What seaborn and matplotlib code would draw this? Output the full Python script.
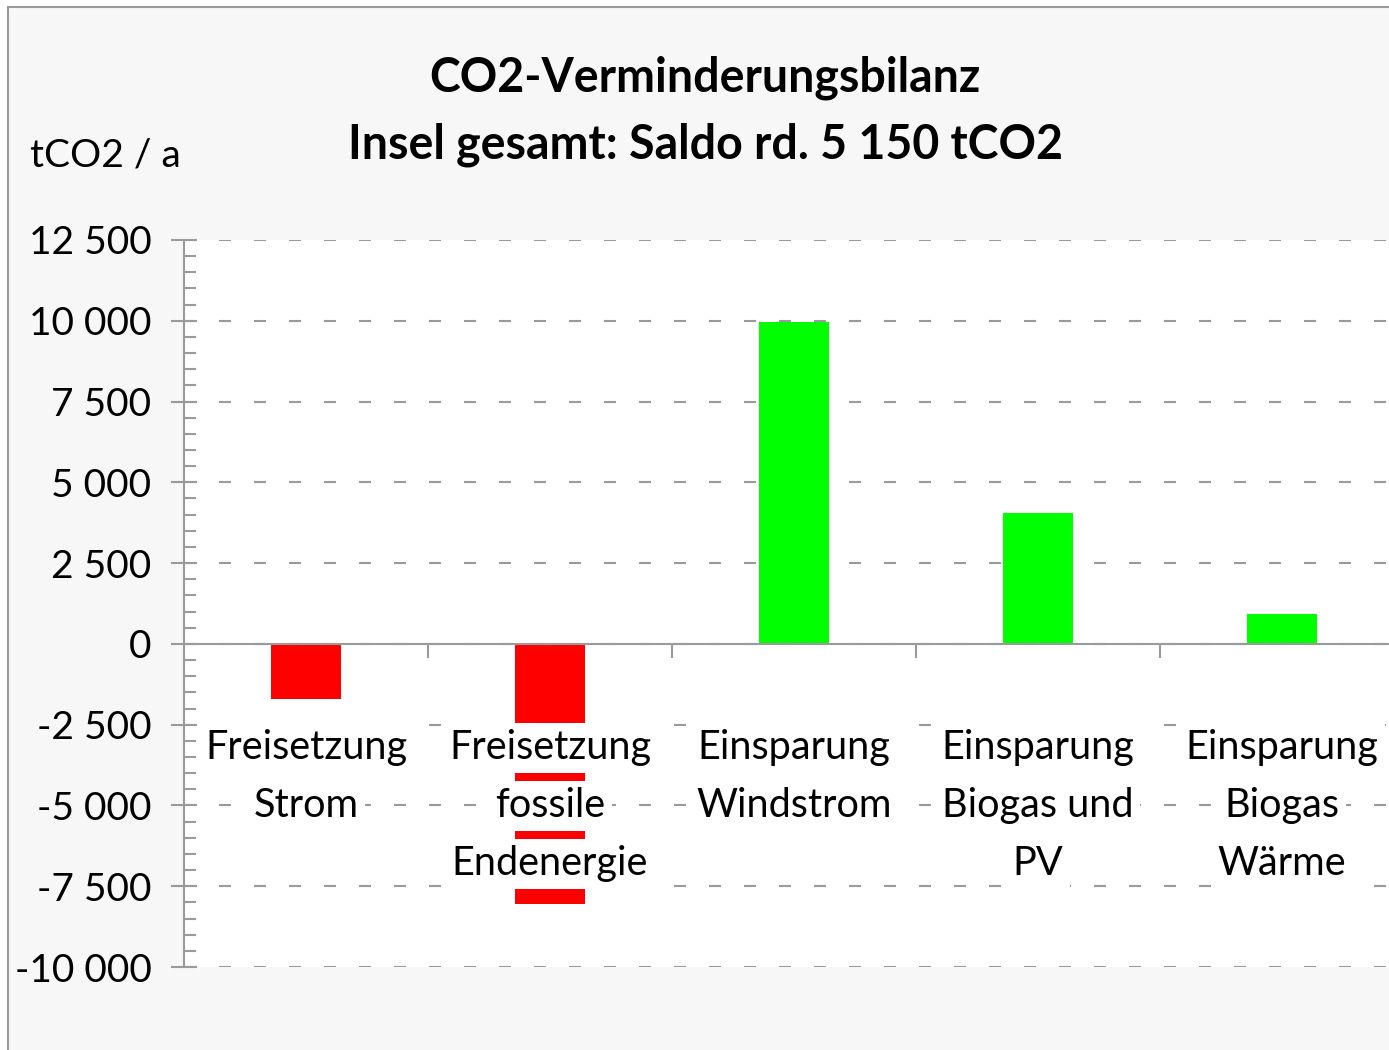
import numpy as np
import pandas as pd
import matplotlib
matplotlib.use('Agg')
import matplotlib.pyplot as plt
from matplotlib.patches import Rectangle
from matplotlib.ticker import MultipleLocator, FixedLocator, FixedFormatter
import seaborn as sns

# ----------------------- Data ---------------------------------------------
categories = ['Freisetzung\nStrom',
              'Freisetzung\nfossile\nEndenergie',
              'Einsparung\nWindstrom',
              'Einsparung\nBiogas und\nPV',
              'Einsparung\nBiogas\nWärme']
values = [-1720, -8050, 9950, 4050, 920]
bar_colors = ['#ff0000', '#ff0000', '#00ff00', '#00ff00', '#00ff00']
y_ticks = [-10000, -7500, -5000, -2500, 0, 2500, 5000, 7500, 10000, 12500]
y_tick_labels = ['-10 000', '-7 500', '-5 000', '-2 500', '0',
                 '2 500', '5 000', '7 500', '10 000', '12 500']
title_lines = ['CO2-Verminderungsbilanz', 'Insel gesamt: Saldo rd. 5 150 tCO2']
y_unit = 'tCO2 / a'

df = pd.DataFrame({'category': categories, 'value': values})

# ----------------------- Style --------------------------------------------
sns.set_theme(style='white')
plt.rcParams['font.family'] = ['Lato', 'DejaVu Sans']
plt.rcParams['lines.scale_dashes'] = False

GRAY = '#9a9a9a'
FS = 28
W, H = 1389, 1050
PX = 72 / 100  # pixels -> points

fig = plt.figure(figsize=(W / 100, H / 100), dpi=100)
fig.patch.set_facecolor('white')
fig.patches.append(Rectangle((8 / W, -0.1), 1.2, 1 - 7 / H + 0.1,
                             transform=fig.transFigure, facecolor='#f7f7f7',
                             edgecolor=GRAY, linewidth=1.5, zorder=-1))

ax = fig.add_axes([184 / W, (H - 967) / H, (1404 - 184) / W, (967 - 240) / H])
ax.set_zorder(1)
ax.set_facecolor('white')

sns.barplot(data=df, x='category', y='value', hue='category', palette=bar_colors,
            width=0.29, saturation=1, legend=False, linewidth=0, ax=ax, zorder=3)

ax.set_xlim(-0.5, 4.5)
ax.set_ylim(-10000, 12500)

# ----------------------- Axes ---------------------------------------------
for side in ['top', 'right']:
    ax.spines[side].set_visible(False)
ax.spines['left'].set_color(GRAY)
ax.spines['left'].set_linewidth(1.5)
ax.spines['bottom'].set_position(('data', 0))
ax.spines['bottom'].set_color(GRAY)
ax.spines['bottom'].set_linewidth(1.5)
ax.spines['bottom'].set_zorder(4)

ax.yaxis.set_major_locator(FixedLocator(y_ticks))
ax.yaxis.set_major_formatter(FixedFormatter(y_tick_labels))
ax.yaxis.set_minor_locator(MultipleLocator(500))
ax.tick_params(axis='y', which='major', direction='inout', length=26 * PX,
               width=1.5, color=GRAY, labelsize=FS, labelcolor='black',
               pad=14, left=True)
ax.tick_params(axis='y', which='minor', direction='in', length=12 * PX,
               width=1.5, color=GRAY, left=True)

ax.set_xticks([0.5, 1.5, 2.5, 3.5])
ax.set_xticklabels([])
ax.tick_params(axis='x', which='major', direction='out', length=14 * PX,
               width=1.5, color=GRAY, bottom=True)

ax.yaxis.grid(True, color=GRAY, linewidth=1.5, linestyle=(0, (12 * PX, 23 * PX)))
ax.set_axisbelow(True)
ax.set_xlabel('')
ax.set_ylabel('')

# category labels with white boxes, drawn over the bars
for i, cat in enumerate(categories):
    for j, line in enumerate(cat.split('\n')):
        ax.annotate(line, xy=(i, 0), xytext=(0, -(104 + 58 * j) * PX),
                    textcoords='offset points', ha='center', va='center',
                    fontsize=FS + 0.5, color='black', zorder=6, annotation_clip=False,
                    bbox=dict(facecolor='white', edgecolor='none',
                              boxstyle='square,pad=0.17'))

# ----------------------- Titles -------------------------------------------
fig.text(705 / W, 1 - 78 / H, title_lines[0], ha='center', va='center',
         fontsize=33.5, fontweight='bold', color='black')
fig.text(705 / W, 1 - 145 / H, title_lines[1], ha='center', va='center',
         fontsize=33.5, fontweight='bold', color='black')
fig.text(30 / W, 1 - 155 / H, y_unit, ha='left', va='center',
         fontsize=FS, color='black')

fig.savefig('out.png', dpi=100)
